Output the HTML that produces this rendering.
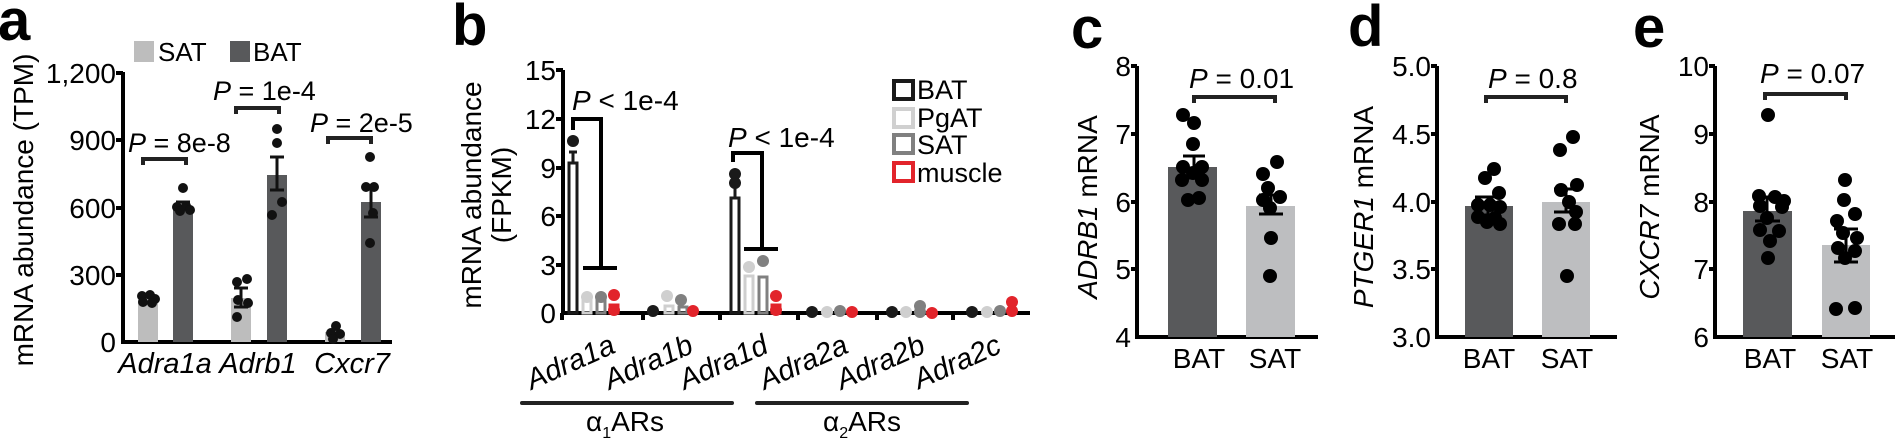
<!DOCTYPE html>
<html><head><meta charset="utf-8"><style>
html,body{margin:0;padding:0;background:#fff;}
svg{display:block;}
text{font-family:"Liberation Sans",Arial,sans-serif;fill:#000;}
.it{font-style:italic;}
.lt{font-weight:bold;font-size:58px;}
</style></head><body>
<svg width="1897" height="441" viewBox="0 0 1897 441" xmlns="http://www.w3.org/2000/svg">
<!-- ========== Panel a ========== -->
<text class="lt" x="-2" y="40">a</text>
<rect x="134" y="41" width="20" height="21" fill="#bdbdbd"/>
<text x="158" y="61" font-size="26">SAT</text>
<rect x="230" y="41" width="20" height="21" fill="#58595b"/>
<text x="253" y="61" font-size="26">BAT</text>
<text transform="translate(33,210) rotate(-90)" text-anchor="middle" font-size="28">mRNA abundance (TPM)</text>
<g font-size="28" text-anchor="end">
<text x="116" y="83">1,200</text>
<text x="116" y="150">900</text>
<text x="116" y="218">600</text>
<text x="116" y="285">300</text>
<text x="116" y="352">0</text>
</g>
<g stroke="#000" stroke-width="4">
<line x1="123" y1="72" x2="123" y2="344"/>
<line x1="116" y1="73" x2="123" y2="73"/><line x1="116" y1="140" x2="123" y2="140"/>
<line x1="116" y1="208" x2="123" y2="208"/><line x1="116" y1="275" x2="123" y2="275"/>
<line x1="121" y1="342" x2="392" y2="342"/>
</g>
<g fill="#bdbdbd"><rect x="138" y="300" width="20" height="42"/><rect x="231" y="298" width="20" height="44"/><rect x="325" y="332" width="20" height="10"/></g>
<g fill="#58595b"><rect x="173" y="207" width="20" height="135"/><rect x="267" y="175" width="20" height="167"/><rect x="361" y="202" width="20" height="140"/></g>
<g fill="#111">
<circle cx="142" cy="296" r="5"/><circle cx="150" cy="295" r="5"/><circle cx="155" cy="299" r="5"/><circle cx="143" cy="302" r="5"/><circle cx="152" cy="303" r="5"/>
<circle cx="183" cy="188" r="5"/><circle cx="177" cy="207" r="5"/><circle cx="186" cy="206" r="5"/><circle cx="190" cy="210" r="5"/><circle cx="180" cy="211" r="5"/>
<circle cx="237" cy="282" r="5"/><circle cx="247" cy="279" r="5"/><circle cx="238" cy="300" r="5"/><circle cx="248" cy="303" r="5"/><circle cx="237" cy="317" r="5"/>
<circle cx="277" cy="129" r="5"/><circle cx="277" cy="143" r="5"/><circle cx="282" cy="202" r="5"/><circle cx="272" cy="215" r="5"/>
<circle cx="336" cy="326" r="5"/><circle cx="331" cy="333" r="5"/><circle cx="340" cy="334" r="5"/><circle cx="333" cy="339" r="5"/>
<circle cx="370" cy="157" r="5"/><circle cx="374" cy="187" r="5"/><circle cx="366" cy="187" r="5"/><circle cx="373" cy="213" r="5"/><circle cx="370" cy="243" r="5"/>
</g>
<g stroke="#111" stroke-width="3" fill="none">
<path d="M176 202H190M183 202V212"/>
<path d="M234 288H248M241 288V307M234 307H248"/>
<path d="M270 157H284M277 157V190M270 190H284"/>
<path d="M364 187H378M371 187V217M364 217H378"/>
</g>
<g stroke="#222" stroke-width="4" fill="none">
<path d="M143 165V159H186V165"/><path d="M236 114V108H279V114"/><path d="M328 144V138H371V144"/>
</g>
<g font-size="27">
<text x="128" y="152"><tspan class="it">P</tspan> = 8e-8</text>
<text x="213" y="100"><tspan class="it">P</tspan> = 1e-4</text>
<text x="310" y="132"><tspan class="it">P</tspan> = 2e-5</text>
</g>
<g font-size="29" class="it" text-anchor="middle">
<text x="165" y="373">Adra1a</text><text x="258" y="373">Adrb1</text><text x="352" y="373">Cxcr7</text>
</g>

<!-- ========== Panel b ========== -->
<text class="lt" x="452" y="45">b</text>
<text transform="translate(481,195) rotate(-90)" text-anchor="middle" font-size="28">mRNA abundance</text>
<text transform="translate(511,195) rotate(-90)" text-anchor="middle" font-size="28">(FPKM)</text>
<g font-size="28" text-anchor="end">
<text x="556" y="80">15</text><text x="556" y="129">12</text><text x="556" y="178">9</text>
<text x="556" y="226">6</text><text x="556" y="275">3</text><text x="556" y="323">0</text>
</g>
<g stroke="#000" stroke-width="4">
<line x1="563" y1="70" x2="563" y2="315"/>
<line x1="556" y1="70" x2="563" y2="70"/><line x1="556" y1="119" x2="563" y2="119"/>
<line x1="556" y1="168" x2="563" y2="168"/><line x1="556" y1="216" x2="563" y2="216"/>
<line x1="556" y1="265" x2="563" y2="265"/>
<line x1="561" y1="313" x2="1030" y2="313"/>
<line x1="562" y1="313" x2="562" y2="320"/><line x1="643" y1="313" x2="643" y2="320"/>
<line x1="720" y1="313" x2="720" y2="320"/><line x1="798" y1="313" x2="798" y2="320"/>
<line x1="877" y1="313" x2="877" y2="320"/><line x1="953" y1="313" x2="953" y2="320"/>
</g>
<g fill="none" stroke-width="3">
<rect x="569" y="163" width="8" height="150" stroke="#1a1a1a"/>
<rect x="583" y="300" width="8" height="13" stroke="#cfcfcf"/>
<rect x="597" y="300" width="8" height="13" stroke="#808080"/>
<rect x="610" y="305" width="8" height="8" stroke="#e2242b"/>
<rect x="731" y="198" width="8" height="115" stroke="#1a1a1a"/>
<rect x="745" y="276" width="8" height="37" stroke="#cfcfcf"/>
<rect x="759" y="277" width="8" height="36" stroke="#808080"/>
<rect x="772" y="305" width="8" height="8" stroke="#e2242b"/>
<rect x="665" y="306" width="8" height="7" stroke="#cfcfcf"/>
<rect x="679" y="307" width="8" height="6" stroke="#808080"/>
</g>
<g stroke-width="3">
<path d="M573 152V163M569 152H577" stroke="#1a1a1a"/>
<path d="M735 178V198" stroke="#1a1a1a"/>
</g>
<g fill="#1a1a1a"><circle cx="573" cy="141" r="6"/><circle cx="735" cy="174" r="6"/><circle cx="735" cy="183" r="6"/>
<circle cx="653" cy="311" r="6"/><circle cx="812" cy="312" r="6"/><circle cx="892" cy="312" r="6"/><circle cx="972" cy="312" r="6"/></g>
<g fill="#cfcfcf"><circle cx="587" cy="297" r="6"/><circle cx="667" cy="296" r="6"/><circle cx="749" cy="267" r="6"/><circle cx="827" cy="312" r="6"/><circle cx="906" cy="312" r="6"/><circle cx="987" cy="312" r="6"/></g>
<g fill="#808080"><circle cx="601" cy="297" r="6"/><circle cx="681" cy="300" r="6"/><circle cx="763" cy="261" r="6"/><circle cx="840" cy="311" r="6"/><circle cx="920" cy="306" r="6"/><circle cx="920" cy="312" r="6"/><circle cx="1000" cy="311" r="6"/></g>
<g fill="#e2242b"><circle cx="614" cy="295" r="6"/><circle cx="614" cy="310" r="6"/><circle cx="693" cy="311" r="6"/><circle cx="776" cy="296" r="6"/><circle cx="776" cy="310" r="6"/><circle cx="852" cy="312" r="6"/><circle cx="932" cy="313" r="6"/><circle cx="1012" cy="302" r="6"/><circle cx="1012" cy="311" r="6"/></g>
<g stroke="#000" stroke-width="4" fill="none">
<path d="M573 130V119H601V268M583 268H617"/>
<path d="M733 162V153H762V249M744 249H778"/>
</g>
<g font-size="28">
<text x="572" y="110"><tspan class="it">P</tspan> &lt; 1e-4</text>
<text x="728" y="147"><tspan class="it">P</tspan> &lt; 1e-4</text>
</g>
<g fill="none" stroke-width="4">
<rect x="894" y="81" width="19" height="18" stroke="#1a1a1a"/>
<rect x="894" y="109" width="19" height="18" stroke="#d0d0d0"/>
<rect x="894" y="135" width="19" height="18" stroke="#808080"/>
<rect x="894" y="163" width="19" height="18" stroke="#e2242b"/>
</g>
<g font-size="27">
<text x="917" y="99">BAT</text><text x="917" y="127">PgAT</text><text x="917" y="154">SAT</text><text x="917" y="182">muscle</text>
</g>
<g font-size="29" class="it" text-anchor="end">
<text transform="translate(617,352) rotate(-24)">Adra1a</text>
<text transform="translate(695,352) rotate(-24)">Adra1b</text>
<text transform="translate(770,352) rotate(-24)">Adra1d</text>
<text transform="translate(850,352) rotate(-24)">Adra2a</text>
<text transform="translate(927,352) rotate(-24)">Adra2b</text>
<text transform="translate(1003,352) rotate(-24)">Adra2c</text>
</g>
<g stroke="#222" stroke-width="4" stroke-linecap="round">
<line x1="522" y1="403" x2="732" y2="403"/><line x1="757" y1="403" x2="967" y2="403"/>
</g>
<g font-size="28" text-anchor="middle">
<text x="625" y="431">α<tspan font-size="16" dy="7">1</tspan><tspan dy="-7">ARs</tspan></text>
<text x="862" y="431">α<tspan font-size="16" dy="7">2</tspan><tspan dy="-7">ARs</tspan></text>
</g>

<!-- ========== Panel c ========== -->
<text class="lt" x="1071" y="48">c</text>
<text transform="translate(1097,207) rotate(-90)" text-anchor="middle" font-size="28"><tspan class="it">ADRB1</tspan> mRNA</text>
<g font-size="28" text-anchor="end">
<text x="1131" y="76">8</text><text x="1131" y="144">7</text><text x="1131" y="212">6</text><text x="1131" y="279">5</text><text x="1131" y="347">4</text>
</g>
<g stroke="#000" stroke-width="4">
<line x1="1137" y1="66" x2="1137" y2="339"/>
<line x1="1131" y1="66" x2="1137" y2="66"/><line x1="1131" y1="134" x2="1137" y2="134"/><line x1="1131" y1="202" x2="1137" y2="202"/><line x1="1131" y1="269" x2="1137" y2="269"/>
<line x1="1135" y1="337" x2="1318" y2="337"/>
</g>
<rect x="1168" y="167" width="49" height="170" fill="#58595b"/>
<rect x="1246" y="206" width="49" height="131" fill="#bdbec0"/>
<g fill="#000">
<circle cx="1183" cy="115" r="7"/><circle cx="1194" cy="123" r="7"/><circle cx="1193" cy="144" r="7"/>
<circle cx="1183" cy="167" r="7"/><circle cx="1202" cy="167" r="7"/><circle cx="1182" cy="180" r="7"/><circle cx="1202" cy="180" r="7"/><circle cx="1193" cy="173" r="7"/>
<circle cx="1188" cy="200" r="7"/><circle cx="1199" cy="198" r="7"/>
<circle cx="1277" cy="162" r="7"/><circle cx="1263" cy="174" r="7"/><circle cx="1268" cy="188" r="7"/><circle cx="1280" cy="197" r="7"/>
<circle cx="1263" cy="200" r="7"/><circle cx="1270" cy="208" r="7"/><circle cx="1271" cy="238" r="7"/><circle cx="1270" cy="276" r="7"/>
</g>
<path d="M1183 156H1205M1194 156V178M1183 178H1205" stroke="#000" stroke-width="3" fill="none"/>
<path d="M1259 195H1283M1271 195V214M1259 214H1283" stroke="#000" stroke-width="3" fill="none"/>
<path d="M1194 103V97H1275V103" stroke="#222" stroke-width="4" fill="none"/>
<text x="1189" y="88" font-size="28"><tspan class="it">P</tspan> = 0.01</text>
<g font-size="28" text-anchor="middle"><text x="1199" y="368">BAT</text><text x="1275" y="368">SAT</text></g>

<!-- ========== Panel d ========== -->
<text class="lt" x="1348" y="46">d</text>
<text transform="translate(1373,207) rotate(-90)" text-anchor="middle" font-size="28"><tspan class="it">PTGER1</tspan> mRNA</text>
<g font-size="28" text-anchor="end">
<text x="1431" y="76">5.0</text><text x="1431" y="144">4.5</text><text x="1431" y="212">4.0</text><text x="1431" y="279">3.5</text><text x="1431" y="347">3.0</text>
</g>
<g stroke="#000" stroke-width="4">
<line x1="1437" y1="66" x2="1437" y2="339"/>
<line x1="1431" y1="66" x2="1437" y2="66"/><line x1="1431" y1="134" x2="1437" y2="134"/><line x1="1431" y1="202" x2="1437" y2="202"/><line x1="1431" y1="269" x2="1437" y2="269"/>
<line x1="1435" y1="337" x2="1617" y2="337"/>
</g>
<rect x="1465" y="206" width="48" height="131" fill="#58595b"/>
<rect x="1542" y="202" width="48" height="135" fill="#bdbec0"/>
<g fill="#000">
<circle cx="1485" cy="178" r="7"/><circle cx="1494" cy="169" r="7"/><circle cx="1499" cy="193" r="7"/><circle cx="1478" cy="205" r="7"/>
<circle cx="1490" cy="205" r="7"/><circle cx="1500" cy="207" r="7"/><circle cx="1478" cy="217" r="7"/><circle cx="1495" cy="218" r="7"/><circle cx="1487" cy="222" r="7"/><circle cx="1500" cy="224" r="7"/>
<circle cx="1573" cy="137" r="7"/><circle cx="1560" cy="150" r="7"/><circle cx="1577" cy="185" r="7"/><circle cx="1561" cy="190" r="7"/>
<circle cx="1569" cy="202" r="7"/><circle cx="1576" cy="212" r="7"/><circle cx="1559" cy="224" r="7"/><circle cx="1575" cy="224" r="7"/><circle cx="1567" cy="276" r="7"/>
</g>
<path d="M1475 197H1501M1488 197V215M1475 215H1501" stroke="#000" stroke-width="3" fill="none"/>
<path d="M1554 189H1578M1566 189V212M1554 212H1578" stroke="#000" stroke-width="3" fill="none"/>
<path d="M1486 103V97H1566V103" stroke="#222" stroke-width="4" fill="none"/>
<text x="1488" y="88" font-size="28"><tspan class="it">P</tspan> = 0.8</text>
<g font-size="28" text-anchor="middle"><text x="1489" y="368">BAT</text><text x="1567" y="368">SAT</text></g>

<!-- ========== Panel e ========== -->
<text class="lt" x="1633" y="47">e</text>
<text transform="translate(1659,207) rotate(-90)" text-anchor="middle" font-size="28"><tspan class="it">CXCR7</tspan> mRNA</text>
<g font-size="28" text-anchor="end">
<text x="1709" y="76">10</text><text x="1709" y="144">9</text><text x="1709" y="212">8</text><text x="1709" y="279">7</text><text x="1709" y="347">6</text>
</g>
<g stroke="#000" stroke-width="4">
<line x1="1715" y1="66" x2="1715" y2="339"/>
<line x1="1709" y1="66" x2="1715" y2="66"/><line x1="1709" y1="134" x2="1715" y2="134"/><line x1="1709" y1="202" x2="1715" y2="202"/><line x1="1709" y1="269" x2="1715" y2="269"/>
<line x1="1713" y1="337" x2="1895" y2="337"/>
</g>
<rect x="1743" y="211" width="49" height="126" fill="#58595b"/>
<rect x="1822" y="245" width="48" height="92" fill="#bdbec0"/>
<g fill="#000">
<circle cx="1768" cy="115" r="7"/><circle cx="1759" cy="196" r="7"/><circle cx="1775" cy="197" r="7"/><circle cx="1784" cy="201" r="7"/>
<circle cx="1760" cy="206" r="7"/><circle cx="1782" cy="207" r="7"/><circle cx="1767" cy="218" r="7"/><circle cx="1760" cy="230" r="7"/>
<circle cx="1779" cy="231" r="7"/><circle cx="1770" cy="241" r="7"/><circle cx="1768" cy="258" r="7"/>
<circle cx="1845" cy="180" r="7"/><circle cx="1844" cy="200" r="7"/><circle cx="1855" cy="214" r="7"/><circle cx="1837" cy="221" r="7"/>
<circle cx="1843" cy="233" r="7"/><circle cx="1857" cy="238" r="7"/><circle cx="1838" cy="248" r="7"/><circle cx="1855" cy="251" r="7"/>
<circle cx="1845" cy="258" r="7"/><circle cx="1836" cy="309" r="7"/><circle cx="1855" cy="308" r="7"/>
</g>
<path d="M1755 197H1780M1767 197V221M1755 221H1780" stroke="#000" stroke-width="3" fill="none"/>
<path d="M1834 229H1858M1846 229V262M1834 262H1858" stroke="#000" stroke-width="3" fill="none"/>
<path d="M1765 100V94H1846V100" stroke="#222" stroke-width="4" fill="none"/>
<text x="1760" y="83" font-size="28"><tspan class="it">P</tspan> = 0.07</text>
<g font-size="28" text-anchor="middle"><text x="1770" y="368">BAT</text><text x="1847" y="368">SAT</text></g>
</svg>
</body></html>
